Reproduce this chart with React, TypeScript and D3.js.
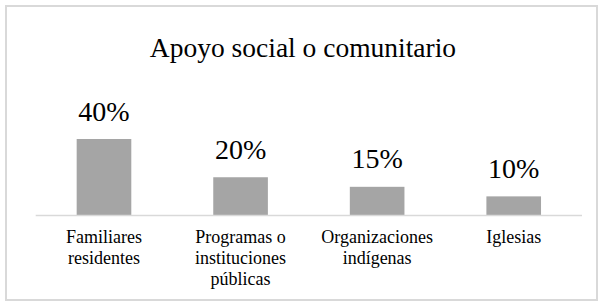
import * as d3 from 'd3';

const categories = [
  ['Familiares', 'residentes'],
  ['Programas o', 'instituciones', 'públicas'],
  ['Organizaciones', 'indígenas'],
  ['Iglesias'],
];
const values = [40, 20, 15, 10];
const valueLabels = ['40%', '20%', '15%', '10%'];
const title = 'Apoyo social o comunitario';

const width = 603;
const height = 306;
const font = "'Liberation Serif', 'Times New Roman', serif";

export default function App() {
  const keys = categories.map((c) => c.join(' '));

  const x = d3.scaleBand<string>().domain(keys).range([35.7, 582]).paddingInner(0.6).paddingOuter(0.3);

  const y = d3.scaleLinear().domain([0, 40]).range([215.5, 139]);

  const cx = (i: number) => (x(keys[i]) ?? 0) + x.bandwidth() / 2;

  return (
    <svg
      width={width}
      height={height}
      style={{ position: 'absolute', left: 0, top: 0, background: '#fff' }}
      fontFamily={font}
    >
      {/* chart border */}
      <rect x={6} y={6} width={591} height={294} fill='#fff' stroke='#d9d9d9' strokeWidth={2} />

      <text x={303} y={56.5} textAnchor='middle' fontSize={27.5} fill='#000'>
        {title}
      </text>

      {values.map((v, i) => (
        <rect key={keys[i]} x={x(keys[i])} y={y(v)} width={x.bandwidth()} height={y(0) - y(v)} fill='#a5a5a5' />
      ))}

      <line x1={35.7} x2={582} y1={y(0)} y2={y(0)} stroke='#d9d9d9' strokeWidth={1.5} />

      {values.map((v, i) => (
        <text key={'l' + keys[i]} x={cx(i)} y={y(v) - 18.5} textAnchor='middle' fontSize={28} fill='#000'>
          {valueLabels[i]}
        </text>
      ))}

      {categories.map((lines, i) => (
        <text key={'c' + keys[i]} x={cx(i)} y={243} textAnchor='middle' fontSize={18} fill='#000'>
          {lines.map((ln, j) => (
            <tspan key={j} x={cx(i)} dy={j === 0 ? 0 : 21}>
              {ln}
            </tspan>
          ))}
        </text>
      ))}
    </svg>
  );
}
